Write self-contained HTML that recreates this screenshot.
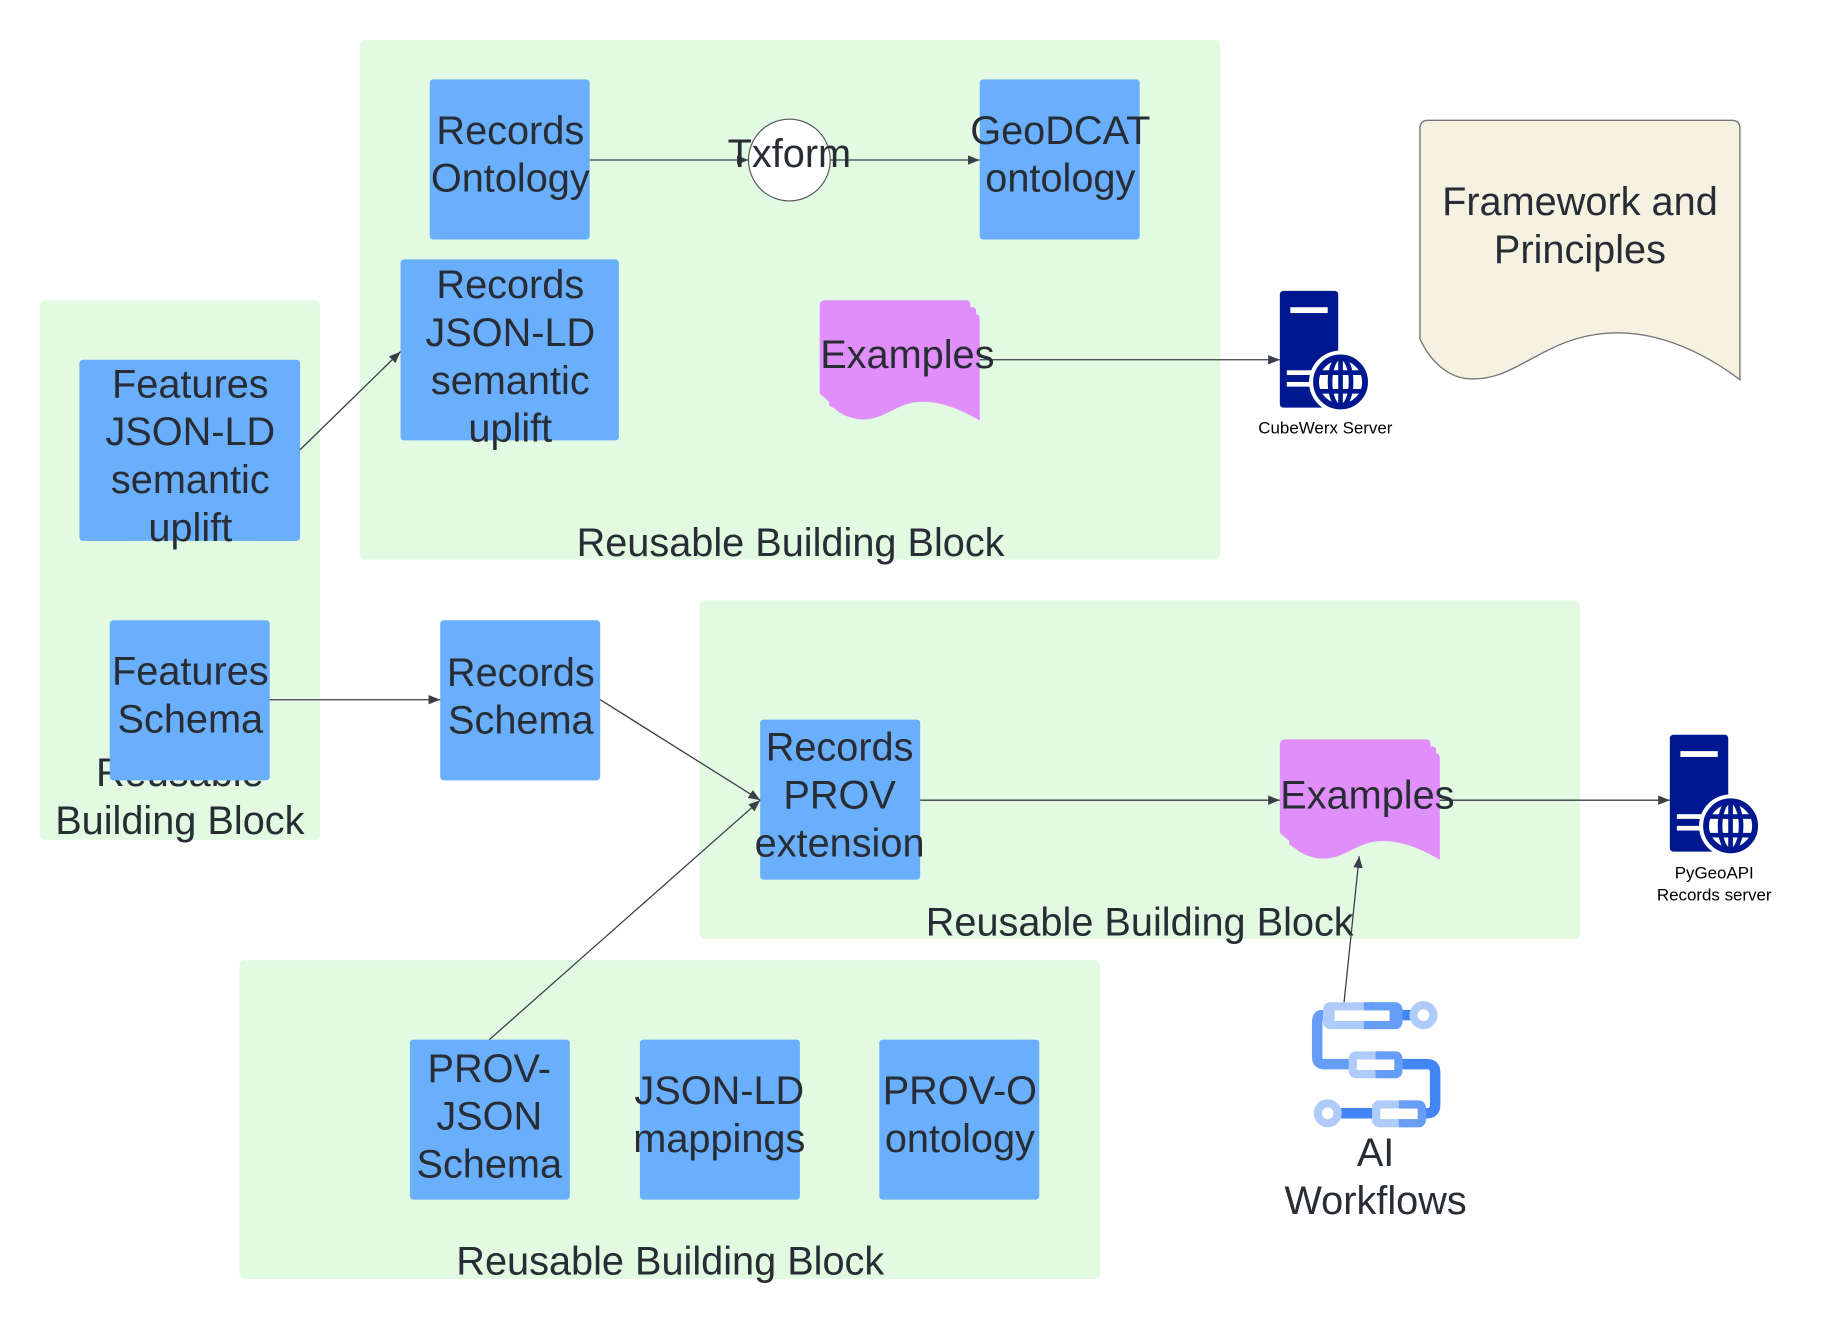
<!DOCTYPE html>
<html><head><meta charset="utf-8"><style>
html,body{margin:0;padding:0;background:#fff;}
svg{display:block;}
text{font-family:"Liberation Sans",sans-serif;fill:#282c34;}
</style></head><body>
<svg width="1831" height="1320" viewBox="0 0 1568 1130" preserveAspectRatio="none" xmlns="http://www.w3.org/2000/svg">
<defs>
<marker id="ar" markerWidth="10" markerHeight="8" refX="10" refY="4" orient="auto" markerUnits="userSpaceOnUse">
<path d="M0,0 L10,4 L0,8 Z" fill="#3a3f47"/>
</marker>
<path id="ex" d="M0,5 Q0,0 5,0 H125 Q129,0 129,4 V6 H131 Q134,6 134,10 V12 H134 Q137,12 137,16 V103 C118,92 98,84 78,88 C62,92 52,103 35,102 C24,101 16,96 13,93 L8,90 V87 L0,80 Z"/>
<g id="srv">
<rect x="0" y="0" width="50" height="100" rx="3" fill="#00188f"/>
<rect x="9" y="14" width="32" height="5" fill="#fff"/>
<rect x="6" y="68" width="28" height="4" fill="#fff"/>
<rect x="6" y="78" width="28" height="4" fill="#fff"/>
<circle cx="52" cy="78" r="27" fill="#fff"/>
<circle cx="52" cy="78" r="21" fill="none" stroke="#00188f" stroke-width="5"/>
<ellipse cx="52" cy="78" rx="9" ry="21" fill="none" stroke="#00188f" stroke-width="4"/>
<line x1="52" y1="57" x2="52" y2="99" stroke="#00188f" stroke-width="4"/>
<line x1="33" y1="70" x2="71" y2="70" stroke="#00188f" stroke-width="4"/>
<line x1="33" y1="86" x2="71" y2="86" stroke="#00188f" stroke-width="4"/>
</g>
</defs>

<rect x="308" y="34" width="737" height="445" rx="5" fill="#e2f9e2"/>
<rect x="34" y="257" width="240" height="462" rx="5" fill="#e2f9e2"/>
<rect x="599" y="514" width="754" height="290" rx="5" fill="#e2f9e2"/>
<rect x="205" y="822" width="737" height="273" rx="5" fill="#e2f9e2"/>

<g font-size="34" text-anchor="middle">
<text x="677" y="476">Reusable Building Block</text>
<text x="154" y="673">Reusable</text>
<text x="154" y="714">Building Block</text>
<text x="976" y="801">Reusable Building Block</text>
<text x="574" y="1091">Reusable Building Block</text>
</g>

<g fill="#6aaffc">
<rect x="368" y="68" width="137" height="137" rx="3"/>
<rect x="839" y="68" width="137" height="137" rx="3"/>
<rect x="343" y="222" width="187" height="155" rx="3"/>
<rect x="68" y="308" width="189" height="155" rx="3"/>
<rect x="94" y="531" width="137" height="137" rx="3"/>
<rect x="377" y="531" width="137" height="137" rx="3"/>
<rect x="651" y="616" width="137" height="137" rx="3"/>
<rect x="351" y="890" width="137" height="137" rx="3"/>
<rect x="548" y="890" width="137" height="137" rx="3"/>
<rect x="753" y="890" width="137" height="137" rx="3"/>
</g>

<use href="#ex" x="702" y="257" fill="#e08ef9"/>
<use href="#ex" x="1096" y="633" fill="#e08ef9"/>

<path d="M1216,110 Q1216,103 1223,103 H1483 Q1490,103 1490,110 V325 C1450,295 1400,275 1350,290 C1310,302 1290,328 1255,324 C1240,322 1225,310 1216,290 Z" fill="#f5f2e1" stroke="#777" stroke-width="1.2"/>

<circle cx="676" cy="137" r="35" fill="#fff" stroke="#555" stroke-width="1"/>

<g stroke="#3a3f47" stroke-width="1.1" fill="none" marker-end="url(#ar)">
<line x1="505" y1="137" x2="641" y2="137"/>
<line x1="711" y1="137" x2="839" y2="137"/>
<line x1="257" y1="385" x2="343" y2="301"/>
<line x1="839" y1="308" x2="1096" y2="308"/>
<line x1="231" y1="599" x2="377" y2="599"/>
<line x1="514" y1="599" x2="651" y2="685"/>
<line x1="419" y1="890" x2="651" y2="685"/>
<line x1="788" y1="685" x2="1096" y2="685"/>
<line x1="1233" y1="685" x2="1430" y2="685"/>
<line x1="1151" y1="858" x2="1164" y2="733"/>
</g>

<use href="#srv" x="1096" y="249"/>
<use href="#srv" x="1430" y="629"/>

<g>
<path d="M1140,869 H1132 Q1128,869 1128,875 V905 Q1128,911 1134,911 H1160" fill="none" stroke="#669df6" stroke-width="9"/>
<path d="M1195,911 H1222 Q1229,911 1229,918 V946 Q1229,953 1222,953 H1215" fill="none" stroke="#4285f4" stroke-width="9"/>
<line x1="1195" y1="869" x2="1210" y2="869" stroke="#4285f4" stroke-width="9"/>
<line x1="1145" y1="953" x2="1180" y2="953" stroke="#4285f4" stroke-width="9"/>
<circle cx="1219" cy="869" r="12" fill="#aecbfa"/><circle cx="1219" cy="869" r="5" fill="#fff"/>
<circle cx="1137" cy="953" r="12" fill="#aecbfa"/><circle cx="1137" cy="953" r="5" fill="#fff"/>
<rect x="1133" y="858" width="68" height="23" rx="6" fill="#aecbfa"/><rect x="1168" y="858" width="33" height="23" rx="6" fill="#669df6"/><rect x="1168" y="858" width="8" height="23" fill="#669df6"/><rect x="1143" y="865" width="47" height="9" fill="#fff"/>
<rect x="1155" y="900" width="46" height="23" rx="6" fill="#aecbfa"/><rect x="1178" y="900" width="23" height="23" rx="6" fill="#669df6"/><rect x="1178" y="900" width="8" height="23" fill="#669df6"/><rect x="1162" y="907" width="32" height="9" fill="#fff"/>
<rect x="1175" y="942" width="46" height="23" rx="6" fill="#aecbfa"/><rect x="1198" y="942" width="23" height="23" rx="6" fill="#669df6"/><rect x="1198" y="942" width="8" height="23" fill="#669df6"/><rect x="1182" y="949" width="32" height="9" fill="#fff"/>
</g>

<g font-size="34" text-anchor="middle" dominant-baseline="central">
<text x="437" y="112">Records</text><text x="437" y="153">Ontology</text>
<text x="908" y="112">GeoDCAT</text><text x="908" y="153">ontology</text>
<text x="676" y="132">Txform</text>
<text x="437" y="244">Records</text><text x="437" y="285">JSON-LD</text><text x="437" y="326">semantic</text><text x="437" y="367">uplift</text>
<text x="163" y="329">Features</text><text x="163" y="370">JSON-LD</text><text x="163" y="411">semantic</text><text x="163" y="452">uplift</text>
<text x="777" y="304">Examples</text>
<text x="1353" y="173">Framework and</text><text x="1353" y="214">Principles</text>
<text x="163" y="575">Features</text><text x="163" y="616">Schema</text>
<text x="446" y="576">Records</text><text x="446" y="617">Schema</text>
<text x="719" y="640">Records</text><text x="719" y="681">PROV</text><text x="719" y="722">extension</text>
<text x="1171" y="681">Examples</text>
<text x="419" y="915">PROV-</text><text x="419" y="956">JSON</text><text x="419" y="997">Schema</text>
<text x="616" y="934">JSON-LD</text><text x="616" y="975">mappings</text>
<text x="822" y="934">PROV-O</text><text x="822" y="975">ontology</text>
<text x="1178" y="987">AI</text><text x="1178" y="1028">Workflows</text>
</g>
<g font-size="14.5" text-anchor="middle">
<text x="1135" y="371" style="fill:#000">CubeWerx Server</text>
<text x="1468" y="752" style="fill:#000">PyGeoAPI</text>
<text x="1468" y="771" style="fill:#000">Records server</text>
</g>
</svg>
</body></html>
